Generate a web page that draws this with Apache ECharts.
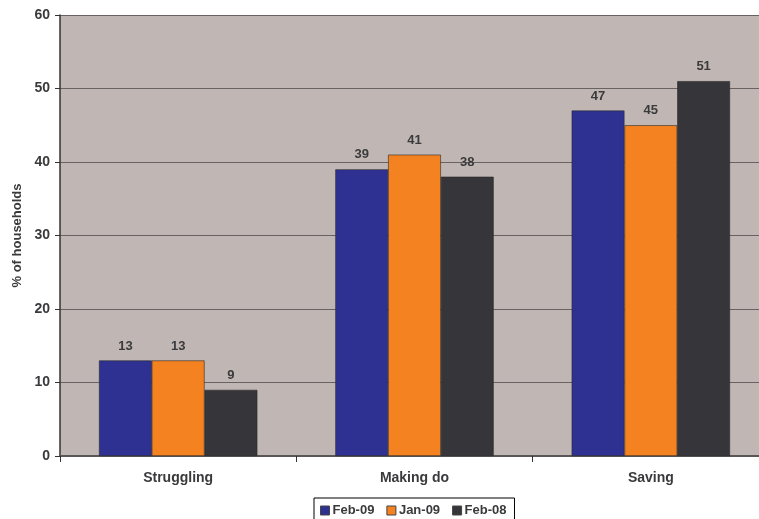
<!DOCTYPE html>
<html>
<head>
<meta charset="utf-8">
<script src="https://cdn.jsdelivr.net/npm/echarts@6/dist/echarts.min.js"></script>
<style>
  html, body { margin: 0; padding: 0; background: #fff; }
  #chart { width: 759px; height: 519px; }
</style>
</head>
<body>
<div id="chart"></div>
<script>
// Household financial situation survey
const categories = ['Struggling', 'Making do', 'Saving'];
const feb09 = [13, 39, 47];
const jan09 = [13, 41, 45];
const feb08 = [9, 38, 51];
const yTicks = [0, 10, 20, 30, 40, 50, 60];

const FONT = '"Liberation Sans", Arial, sans-serif';
const chart = echarts.init(document.getElementById('chart'), null, { renderer: 'canvas' });

const labelStyle = {
  show: true,
  position: 'top',
  distance: 8,
  fontFamily: FONT,
  fontWeight: 'bold',
  fontSize: 13,
  color: '#3a3a3c'
};

function bar(name, data, color) {
  return {
    name: name,
    type: 'bar',
    data: data,
    barGap: '0%',
    barCategoryGap: '33%',
    itemStyle: { color: color, borderColor: '#2a2a2a', borderWidth: 0.6 },
    label: labelStyle
  };
}

chart.setOption({
  animation: false,
  backgroundColor: '#ffffff',
  grid: {
    left: 60, width: 709, top: 15, height: 441,
    outerBoundsMode: 'none',
    containLabel: false,
    show: true, backgroundColor: '#c0b7b4', borderWidth: 0
  },
  legend: {
    left: 314, top: 498,
    itemWidth: 9, itemHeight: 9, itemGap: 12,
    padding: [6, 8, 6, 6],
    borderColor: '#000', borderWidth: 1,
    icon: 'rect',
    textStyle: { fontFamily: FONT, fontWeight: 'bold', fontSize: 13, color: '#3a3a3c', padding: [0, 0, 0, -2] },
    itemStyle: { borderColor: '#444', borderWidth: 1 },
    data: ['Feb-09', 'Jan-09', 'Feb-08']
  },
  xAxis: {
    type: 'category',
    data: categories,
    axisLine: { lineStyle: { color: '#5a5656', width: 2 } },
    axisTick: { show: true, length: 6, lineStyle: { color: '#333' } },
    axisLabel: { margin: 15, fontFamily: FONT, fontWeight: 'bold', fontSize: 14, color: '#3a3a3c' }
  },
  yAxis: {
    type: 'value',
    min: yTicks[0], max: yTicks[yTicks.length - 1], interval: 10,
    name: '% of households',
    nameLocation: 'middle',
    nameGap: 36,
    nameTextStyle: { fontFamily: FONT, fontWeight: 'bold', fontSize: 13, color: '#3a3a3c' },
    axisLine: { show: true, lineStyle: { color: '#333', width: 1.5 } },
    axisTick: { show: true, length: 5, lineStyle: { color: '#333' } },
    axisLabel: { margin: 10, fontFamily: FONT, fontWeight: 'bold', fontSize: 14, color: '#3a3a3c' },
    splitLine: { show: true, lineStyle: { color: '#686262', width: 1.2 } }
  },
  series: [
    bar('Feb-09', feb09, '#2e3192'),
    bar('Jan-09', jan09, '#f58220'),
    bar('Feb-08', feb08, '#363539')
  ]
});
</script>
</body>
</html>
